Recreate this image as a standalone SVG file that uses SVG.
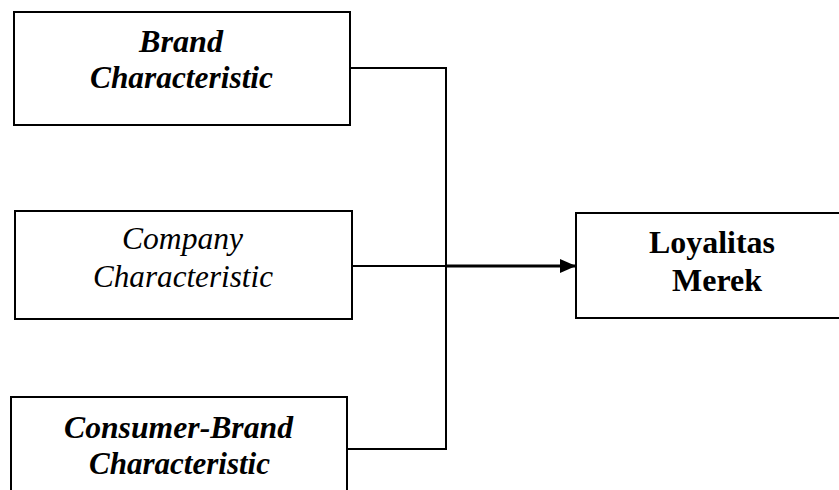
<svg xmlns="http://www.w3.org/2000/svg" width="839" height="490" viewBox="0 0 839 490">
<style>
.box{fill:#fff;stroke:#000;stroke-width:2}
.t{font-family:'Liberation Serif',serif;font-size:31px;fill:#000;text-anchor:middle}
.bi{font-weight:bold;font-style:italic}
.i{font-style:italic}
.b{font-weight:bold}
.line{fill:none;stroke:#000;stroke-width:2}
</style>
<defs>
<marker id="arr" markerWidth="16" markerHeight="14" refX="16" refY="7" orient="auto" markerUnits="userSpaceOnUse">
<path d="M0,0 L16,7 L0,14 Z" fill="#000"/>
</marker>
</defs>
<rect width="839" height="490" fill="#fff"/>
<g id="connectors">
<path class="line" d="M350,68 H446 V449 H347"/>
<path class="line" d="M352,266 H446"/>
<path d="M446,266 H576" fill="none" stroke="#000" stroke-width="3" marker-end="url(#arr)"/>
</g>
<g id="brand">
<rect class="box" x="14" y="12" width="336" height="113"/>
<text class="t bi" x="181" y="52" textLength="84" lengthAdjust="spacingAndGlyphs">Brand</text>
<text class="t bi" x="181.5" y="88" textLength="183" lengthAdjust="spacingAndGlyphs">Characteristic</text>
</g>
<g id="company">
<rect class="box" x="15" y="211" width="337" height="108"/>
<text class="t i" x="182.5" y="249" textLength="121" lengthAdjust="spacingAndGlyphs">Company</text>
<text class="t i" x="183" y="287" textLength="180" lengthAdjust="spacingAndGlyphs">Characteristic</text>
</g>
<g id="consumer">
<rect class="box" x="11" y="397" width="336" height="110"/>
<text class="t bi" x="178.5" y="438" textLength="229" lengthAdjust="spacingAndGlyphs">Consumer-Brand</text>
<text class="t bi" x="179.5" y="474" textLength="181" lengthAdjust="spacingAndGlyphs">Characteristic</text>
</g>
<g id="loyalitas">
<rect class="box" x="576" y="213" width="280" height="105"/>
<text class="t b" x="712" y="253" textLength="126" lengthAdjust="spacingAndGlyphs">Loyalitas</text>
<text class="t b" x="717" y="291" textLength="90" lengthAdjust="spacingAndGlyphs">Merek</text>
</g>
</svg>
